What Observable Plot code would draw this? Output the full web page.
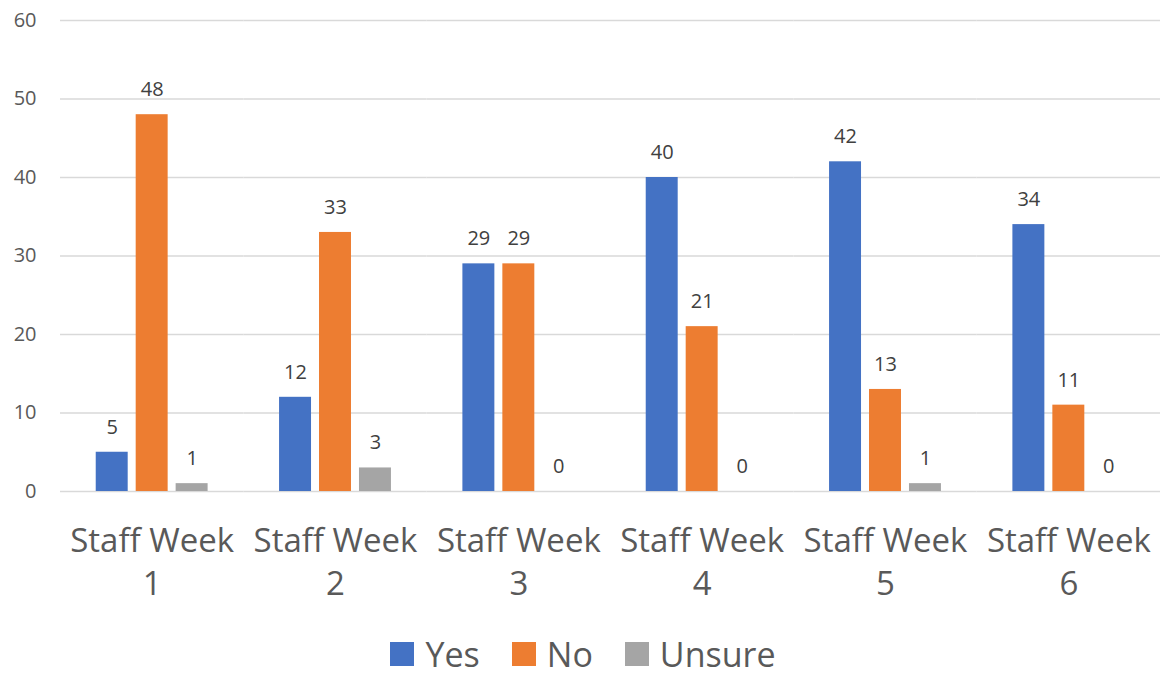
<!DOCTYPE html>
<html><head><meta charset="utf-8">
<script src="https://cdn.jsdelivr.net/npm/d3@7"></script>
<script src="https://cdn.jsdelivr.net/npm/@observablehq/plot@0.6"></script>
<style>
body{margin:0;background:#fff;font-family:"Open Sans",sans-serif;}
#chart{height:630px;}
#chart svg{display:block;}
#legend{margin-top:2px;width:1166px;height:44px;display:flex;justify-content:center;align-items:center;font-size:34px;line-height:40px;color:#595959;}
#legend .item{display:flex;align-items:center;margin:0 16px;}
#legend .sw{width:24px;height:24px;margin-right:11px;}
</style></head><body><div id="chart"></div><div id="legend"></div><script>
const weeks = ["Staff Week 1","Staff Week 2","Staff Week 3","Staff Week 4","Staff Week 5","Staff Week 6"];
const series = ["Yes","No","Unsure"];
const yesValues = [5,12,29,40,42,34];
const noValues = [48,33,29,21,13,11];
const unsureValues = [1,3,0,0,1,0];
const colors = ["#4472C4","#ED7D31","#A5A5A5"];
const yTicks = [0,10,20,30,40,50,60];

const data = weeks.flatMap((w,i)=>[
  {week:w, series:"Yes", value:yesValues[i]},
  {week:w, series:"No", value:noValues[i]},
  {week:w, series:"Unsure", value:unsureValues[i]}
]);

const plot = Plot.plot({
  width:1166, height:630,
  marginLeft:60, marginRight:6, marginTop:20, marginBottom:139,
  style:{fontFamily:'"Open Sans", sans-serif', background:"white"},
  fx:{domain:weeks, padding:0, round:false, label:null},
  x:{domain:series, paddingInner:0.2, paddingOuter:0.894, round:false, axis:null},
  y:{domain:[0,60], axis:null},
  color:{domain:series, range:colors},
  marks:[
    Plot.gridY(yTicks,{stroke:"#d9d9d9", strokeOpacity:1, strokeWidth:1.5}),
    Plot.axisY(yTicks,{tickSize:0, tickPadding:24, fontSize:20, fill:"#595959", label:null}),
    Plot.axisFx({anchor:"bottom", tickSize:0, tickPadding:30, fontSize:33, lineHeight:1.3, fill:"#595959", label:null,
      tickFormat:d=>d.replace(/ (\d+)$/, "\n$1")}),
    Plot.barY(data,{fx:"week", x:"series", y:"value", fill:"series"}),
    Plot.text(data,{fx:"week", x:"series", y:"value", text:d=>String(d.value), dy:-25, fontSize:20, fill:"#404040"})
  ]
});
document.getElementById("chart").appendChild(plot);

const legend = document.getElementById("legend");
series.forEach((s,i)=>{
  const item = document.createElement("div");
  item.className = "item";
  const sw = document.createElement("div");
  sw.className = "sw";
  sw.style.background = colors[i];
  const t = document.createElement("span");
  t.textContent = s;
  item.appendChild(sw); item.appendChild(t);
  legend.appendChild(item);
});
</script></body></html>
